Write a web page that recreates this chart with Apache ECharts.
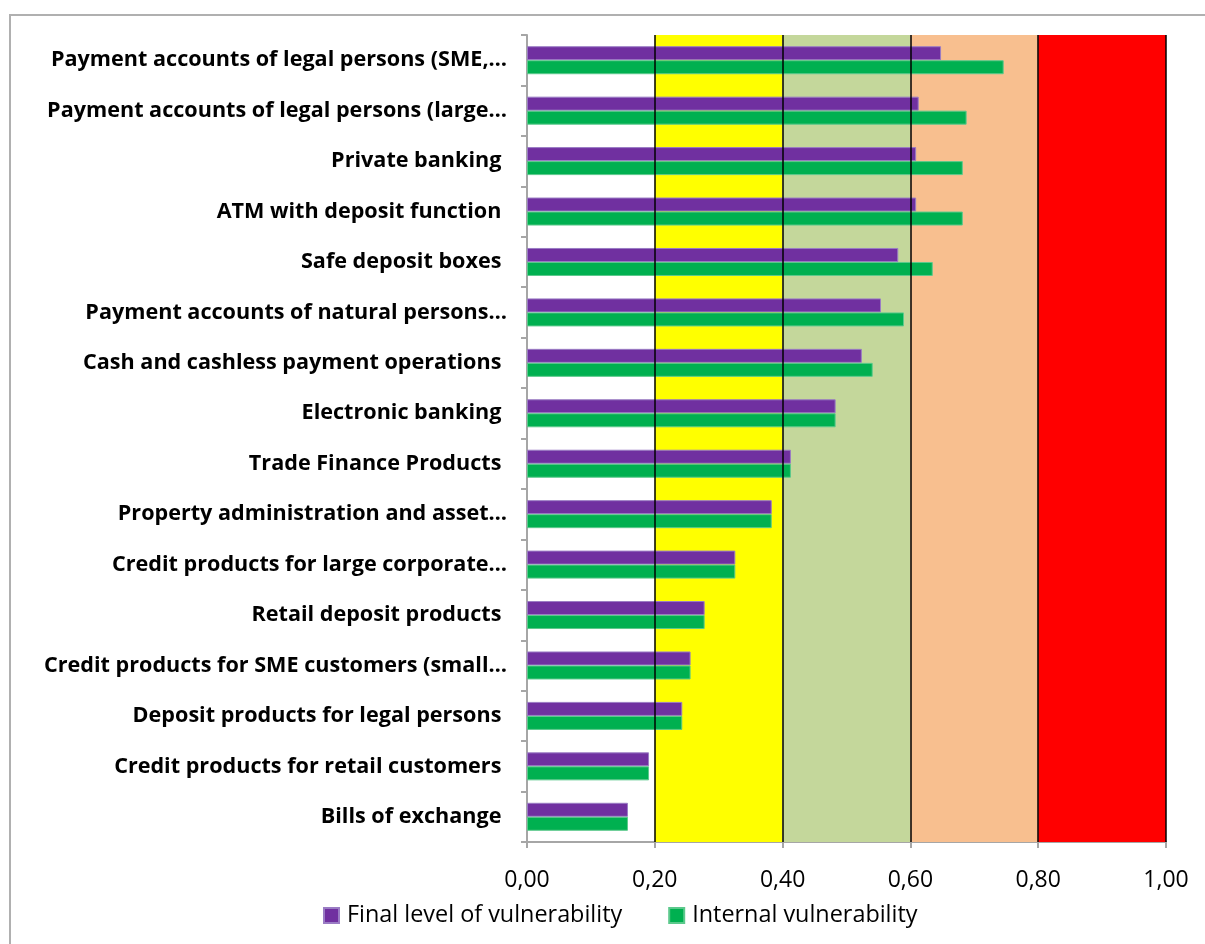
<!DOCTYPE html>
<html>
<head>
<meta charset="utf-8">
<script src="https://cdn.jsdelivr.net/npm/echarts@6/dist/echarts.min.js"></script>
<style>
  html, body { margin: 0; padding: 0; background: #fff; }
  #chart { width: 1205px; height: 944px; }
</style>
</head>
<body>
<div id="chart"></div>
<script>
// Products and services, top to bottom
const categories = [
  'Payment accounts of legal persons (SME,…',
  'Payment accounts of legal persons (large…',
  'Private banking ',
  'ATM with deposit function ',
  'Safe deposit boxes ',
  'Payment accounts of natural persons…',
  'Cash and cashless payment operations ',
  'Electronic banking ',
  'Trade Finance Products ',
  'Property administration and asset…',
  'Credit products for large corporate…',
  'Retail deposit products ',
  'Credit products for SME customers (small…',
  'Deposit products for legal persons ',
  'Credit products for retail customers ',
  'Bills of exchange '
];

const finalVulnerability = [
  0.648, 0.613, 0.609, 0.609, 0.581, 0.554, 0.524, 0.483,
  0.413, 0.383, 0.326, 0.278, 0.256, 0.243, 0.191, 0.158
];

const internalVulnerability = [
  0.746, 0.688, 0.682, 0.682, 0.635, 0.590, 0.541, 0.483,
  0.413, 0.383, 0.326, 0.278, 0.256, 0.243, 0.191, 0.158
];

const seriesNames = ['Final level of vulnerability', 'Internal vulnerability'];

// Risk bands along the value axis
const bandEdges = [0.2, 0.4, 0.6, 0.8, 1.0];
const bandColors = ['#FFFF00', '#C4D79B', '#F8BF8F', '#FF0000'];
const axisTicks = [0, 0.2, 0.4, 0.6, 0.8, 1.0];

const chart = echarts.init(document.getElementById('chart'), null, { renderer: 'canvas' });

const bands = [];
for (let i = 0; i < bandColors.length; i++) {
  bands.push([
    { xAxis: bandEdges[i], itemStyle: { color: bandColors[i] } },
    { xAxis: bandEdges[i + 1] }
  ]);
}

chart.setOption({
  animation: false,
  backgroundColor: '#fff',
  graphic: [{
    type: 'rect',
    shape: { x: 10, y: 15, width: 1200, height: 940 },
    style: { fill: 'none', stroke: '#B0B0B0', lineWidth: 2 },
    silent: true,
    z: -10
  }],
  grid: { left: 527, top: 35, width: 639, height: 807, containLabel: false },
  legend: {
    data: seriesNames,
    left: 318,
    top: 899,
    itemWidth: 15,
    itemHeight: 15,
    itemGap: 46,
    icon: 'rect',
    textStyle: { fontFamily: 'Open Sans', fontSize: 23.4, color: '#000', padding: [0, 0, 0, 3] }
  },
  xAxis: {
    type: 'value',
    min: 0,
    max: 1,
    interval: 0.2,
    axisLine: { show: true, lineStyle: { color: '#A6A6A6', width: 2 } },
    axisTick: { show: true, length: 6, lineStyle: { color: '#A6A6A6', width: 2 } },
    splitLine: { show: false },
    axisLabel: {
      margin: 27,
      fontFamily: 'Open Sans',
      fontSize: 23,
      color: '#000',
      customValues: axisTicks,
      formatter: v => v.toFixed(2).replace('.', ',')
    }
  },
  yAxis: {
    type: 'category',
    inverse: true,
    data: categories,
    axisLine: { show: true, lineStyle: { color: '#A6A6A6', width: 2 } },
    axisTick: { show: true, length: 6, lineStyle: { color: '#A6A6A6', width: 2 } },
    axisLabel: {
      margin: 20,
      fontFamily: 'Open Sans',
      fontWeight: 'bold',
      fontSize: 21.6,
      color: '#000',
      padding: [5, 0, 0, 0]
    }
  },
  series: [
    {
      // backdrop: coloured bands and their boundary lines
      type: 'line',
      data: [],
      z: 1,
      silent: true,
      markArea: { silent: true, data: bands },
      markLine: {
        silent: true,
        symbol: 'none',
        label: { show: false },
        lineStyle: { color: '#000', type: 'solid', width: 1.5 },
        data: bandEdges.map(v => ({ xAxis: v }))
      }
    },
    {
      name: seriesNames[0],
      type: 'bar',
      z: 3,
      data: finalVulnerability,
      barWidth: 14,
      barGap: '0%',
      itemStyle: { color: '#7030A0', borderColor: '#9A7CC4', borderWidth: 1 }
    },
    {
      name: seriesNames[1],
      type: 'bar',
      z: 3,
      data: internalVulnerability,
      barWidth: 14,
      barGap: '0%',
      itemStyle: { color: '#00B050', borderColor: '#5CC98C', borderWidth: 1 }
    }
  ]
});
</script>
</body>
</html>
